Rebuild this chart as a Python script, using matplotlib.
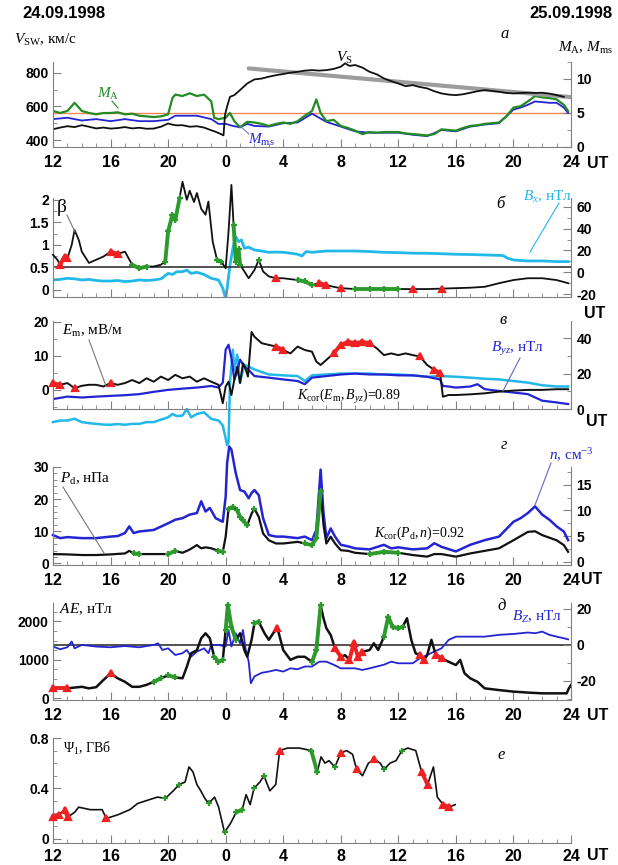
import numpy as np
import matplotlib
matplotlib.use('Agg')
import matplotlib.pyplot as plt
from matplotlib.ticker import MultipleLocator, FixedLocator
from matplotlib.lines import Line2D

plt.rcParams['font.family'] = ['Liberation Sans', 'DejaVu Sans']
plt.rcParams['mathtext.fontset'] = 'custom'
plt.rcParams['mathtext.rm'] = 'Liberation Serif'
plt.rcParams['mathtext.it'] = 'Liberation Serif:italic'
plt.rcParams['mathtext.bf'] = 'Liberation Serif:bold'

# time in hours from 00 UT 24.09.1998
x_ticks = [12, 16, 20, 24, 28, 32, 36, 40, 44, 48]
x_labels = ['12', '16', '20', '0', '4', '8', '12', '16', '20', '24']

# --- panel a: solar wind speed and Mach numbers
v_t = [12, 12.5, 13, 13.5, 14, 14.5, 15, 15.5, 16, 16.5, 17, 17.5, 18, 18.5, 19, 19.5,
       20, 20.3, 20.6, 21, 21.5, 22, 22.5, 23, 23.3, 23.6, 23.85, 23.95, 24.1, 24.3, 24.6,
       25, 25.5, 26, 26.5, 27, 27.5, 28, 28.5, 29, 29.5, 30, 30.5, 31, 31.5, 32, 32.3,
       32.6, 33, 33.5, 34, 34.5, 35, 35.5, 36, 36.5, 37, 37.5, 38, 38.5, 39, 39.5, 40,
       40.5, 41, 41.5, 42, 42.5, 43, 43.5, 44, 44.5, 45, 45.5, 46, 46.5, 47, 47.5]
v_sw = [465, 475, 483, 478, 489, 480, 470, 475, 469, 472, 478, 470, 474, 468, 469, 480,
        499, 492, 488, 489, 480, 483, 475, 459, 450, 439, 429, 548, 600, 657, 667,
        697, 736, 760, 765, 776, 785, 792, 800, 805, 812, 815, 812, 815, 822, 835, 855,
        840, 845, 830, 805, 790, 766, 750, 736, 720, 726, 715, 707, 690, 677, 670, 667,
        672, 681, 690, 697, 692, 687, 680, 677, 680, 681, 680, 681, 676, 667, 657]
vs_t = [25.6, 48.0]
vs_fit = [825, 655]

ma_t = [12, 12.5, 13, 13.5, 14, 14.5, 15, 15.5, 16, 16.5, 17, 17.5, 18, 18.5, 19, 19.5,
        20, 20.3, 20.5, 21, 21.5, 22, 22.5, 23, 23.2, 23.5, 24, 24.3, 24.6, 25, 25.5, 26,
        26.5, 27, 27.5, 28, 28.5, 29, 29.5, 30, 30.3, 30.6, 31, 31.5, 32, 32.5, 33, 33.5,
        34, 34.5, 35, 35.5, 36, 36.5, 37, 37.5, 38, 38.5, 39, 39.5, 40, 40.5, 41, 41.5,
        42, 42.5, 43, 43.5, 44, 44.5, 45, 45.5, 46, 46.5, 47, 47.5, 47.8]
m_a = [5.3, 5.0, 5.3, 6.5, 5.3, 5.0, 4.8, 5.0, 5.0, 5.1, 4.8, 4.9, 4.6, 4.5, 4.4, 4.5,
       4.8, 7.2, 7.7, 7.5, 7.9, 7.5, 7.7, 6.7, 4.3, 4.1, 4.3, 5.0, 3.8, 2.9, 3.7, 3.6,
       3.4, 3.1, 3.4, 3.6, 3.4, 3.8, 4.6, 5.3, 7.0, 5.0, 3.8, 4.0, 3.1, 2.8, 2.4, 1.9,
       2.2, 2.1, 2.2, 2.2, 2.2, 2.0, 1.9, 1.8, 1.7, 1.9, 2.6, 2.5, 2.4, 2.8, 3.1, 3.2,
       3.4, 3.5, 3.6, 4.5, 5.8, 6.0, 6.7, 7.5, 7.3, 7.2, 7.0, 6.2, 5.3]
mms_t = [12, 13, 14, 15, 16, 17, 18, 19, 20, 20.5, 21, 22, 23, 23.5, 24, 24.5, 25, 25.5,
         26, 27, 28, 29, 30, 31, 32, 33, 34, 35, 36, 37, 38, 39, 40, 41, 42, 43, 44,
         44.5, 45, 45.5, 46, 46.5, 47, 47.5, 47.8]
m_ms = [4.1, 4.3, 3.9, 4.1, 3.8, 4.1, 3.8, 3.8, 4.0, 4.6, 4.6, 4.6, 4.1, 3.4, 3.4, 3.1,
        2.9, 3.4, 3.1, 3.0, 3.5, 3.6, 4.9, 3.7, 3.0, 2.3, 2.1, 2.1, 2.1, 1.8, 1.6, 2.5,
        2.3, 3.0, 3.3, 3.5, 5.5, 5.8, 6.2, 6.7, 6.6, 6.5, 6.5, 5.8, 5.0]
m_crit = 5

# --- panel b: plasma beta and Bx
beta_t = [12, 12.3, 12.5, 12.8, 13, 13.3, 13.5, 13.8, 14, 14.3, 14.5, 15, 15.5, 16, 16.5,
          17, 17.5, 18, 18.5, 19, 19.5, 19.8, 20, 20.3, 20.5, 20.8, 21, 21.3, 21.5, 21.8,
          22, 22.3, 22.6, 22.8, 23.1, 23.4, 23.7, 24, 24.2, 24.4, 24.55, 24.7, 24.9, 25,
          25.3, 25.6, 26, 26.3, 26.6, 27, 27.5, 28, 28.5, 29, 29.5, 30, 30.5, 31, 31.5,
          32, 33, 34, 35, 36, 37, 38, 39, 40, 41, 42, 43, 44, 45, 46, 47, 47.8]
beta = [0.78, 0.67, 0.56, 0.74, 0.7, 1.0, 1.33, 1.1, 0.85, 0.7, 0.6, 0.67, 0.74, 0.85, 0.8,
        0.85, 0.56, 0.48, 0.52, 0.52, 0.56, 0.63, 1.3, 1.67, 1.55, 2.04, 2.4, 2.0, 2.2, 1.95,
        2.15, 1.8, 1.67, 1.96, 1.07, 0.67, 0.63, 0.48, 1.3, 2.33, 1.44, 0.63, 0.9, 0.56,
        0.41, 0.26, 0.44, 0.67, 0.41, 0.3, 0.26, 0.26, 0.24, 0.22, 0.19, 0.11, 0.15, 0.11,
        0.07, 0.04, 0.02, 0.02, 0.02, 0.02, 0.02, 0.02, 0.03, 0.04, 0.05, 0.07, 0.15, 0.22,
        0.26, 0.26, 0.22, 0.15]
bx_t = [12, 12.5, 13, 13.5, 14, 14.5, 15, 15.5, 16, 16.5, 17, 17.5, 18, 18.5, 19, 19.5,
        20, 20.3, 20.6, 21, 21.3, 21.6, 22, 22.5, 23, 23.5, 23.8, 24.0, 24.1, 24.3, 24.5,
        24.7, 24.9, 25.1, 25.3, 25.6, 26, 26.5, 27, 27.5, 28, 28.5, 29, 29.3, 29.6, 30,
        31, 32, 33, 34, 35, 36, 37, 38, 39, 40, 41, 42, 43, 43.3, 43.6, 44, 45, 46, 47, 47.8]
bx = [-7, -6.5, -5.5, -6, -7, -6.5, -7.5, -8, -8, -7.5, -8.5, -8, -7, -7.5, -7, -6,
      -1, -2, 0.5, 0.6, 2, -1, 0, -2, -5.5, -7, -14.6, -24, -15, 6.7, 22,
      32.6, 28, 29.6, 22, 23, 20.4, 19.5, 18.3, 18.5, 18.3, 17.5, 16.5, 15, 19, 18.3,
      19.5, 19.5, 19.5, 19, 18.3, 18, 17.5, 17.4, 17, 16.5, 16.3, 15.9, 15.5, 15.2, 12.8,
      11.3, 10.4, 10.4, 9.8, 9.8]

# --- panel v: Em and Byz
em_t = [12, 12.5, 13, 13.5, 14, 14.5, 15, 15.5, 16, 16.5, 17, 17.5, 18, 18.5, 19, 19.5,
        20, 20.5, 21, 21.5, 22, 22.5, 23, 23.5, 23.8, 24, 24.2, 24.4, 24.6, 24.8, 25,
        25.2, 25.4, 25.55, 25.7, 25.8, 26, 26.5, 27, 27.5, 28, 28.5, 29, 29.5, 30, 30.3,
        30.6, 31, 31.5, 32, 32.5, 33, 33.5, 34, 34.5, 35, 35.5, 36, 36.5, 37, 37.5, 38,
        38.5, 38.9, 39.1, 39.5, 40, 41, 42, 43, 44, 45, 46, 47, 47.8]
e_m = [1.95, 1.5, 2.0, 0.5, 1.2, 1.5, 1.5, 1.0, 2.0, 1.5, 2.0, 2.9, 2.0, 3.4, 2.4, 3.9,
       2.9, 4.4, 3.4, 3.9, 2.4, 3.4, 2.4, 1.5, -3.9, 1.0, 2.4, -1.5, 2.9, 6.8, 2.0,
       7.8, 5.9, 3.9, 11.7, 17.0, 15.6, 13.7, 13.2, 12.7, 11.7, 10.7, 12.7, 11.7, 11.2, 8.3,
       7.3, 8.8, 10.7, 13.2, 14.1, 13.7, 14.1, 13.7, 12.2, 10.2, 10.7, 10.2, 10.7, 10.2, 9.8,
       7.3, 5.9, 4.9, -2.0, -1.5, -1.5, -1.3, -1.0, -0.5, -0.2, 0.0, 0.0, 0.2, 0.2]
byz_t = [12, 13, 14, 15, 16, 17, 18, 19, 20, 21, 22, 23, 23.5, 23.8, 24, 24.2, 24.4, 24.6,
         24.8, 25, 25.3, 25.6, 26, 27, 28, 29, 29.5, 30, 31, 32, 33, 34, 35, 36, 37, 38,
         38.9, 39.1, 39.5, 40, 41, 41.5, 42, 43, 44, 45, 46, 47, 47.8]
b_yz = [5.6, 7.0, 6.5, 7.0, 7.4, 7.8, 8.4, 9.7, 10.8, 11.5, 12.1, 13.0, 12.1, 14.9, 33.5,
        36.3, 28.8, 16.7, 21.0, 27.9, 24.0, 22.0, 18.6, 17.7, 16.7, 15.8, 14.0, 17.7, 18.6,
        19.5, 20.0, 19.5, 19.5, 19.0, 19.0, 18.2, 16.7, 13.0, 12.7, 12.1, 12.7, 14.0, 11.2,
        10.2, 9.3, 8.4, 4.7, 3.7, 2.8]
bc_t = [12, 12.5, 13, 13.5, 14, 14.5, 15, 15.5, 16, 16.5, 17, 17.5, 18, 18.5, 19, 19.5,
        20, 20.3, 20.6, 21, 21.3, 21.6, 22, 22.5, 23, 23.5, 23.8, 24.0, 24.1, 24.2, 24.3,
        24.5, 24.6, 24.8, 25.0, 25.3, 25.6, 26, 27, 28, 29, 29.5, 30, 31, 32, 33, 34, 35,
        36, 37, 38, 39, 40, 41, 42, 43, 44, 45, 46, 47, 47.8]
b_cyan = [-7.4, -6.5, -6.5, -5.5, -7.4, -8, -8.4, -8.8, -8.9, -8.5, -8.9, -8.4, -8.4, -7.4,
          -7.4, -6, -4.7, -2.8, -4, -3.7, 0, -4.7, -2.8, -1.9, -5.6, -6.5, -9.3, -16.7,
          -20.5, -19, 14.9, 33.5, 22.0, 30.7, 14.9, 25.0, 24.0, 22.3, 19.5, 19.0, 18.6, 15.8,
          19.0, 19.5, 20.0, 20.0, 20.0, 19.5, 19.5, 19.0, 18.2, 18.6, 18.2, 17.7, 17.1, 16.7,
          15.8, 14.9, 13.4, 12.7, 12.7]

# --- panel g: dynamic pressure and density
pd_t = [12, 13, 14, 15, 16, 17, 17.3, 17.6, 18, 19, 20, 20.5, 21, 21.5, 22, 22.3, 22.6,
        23, 23.5, 23.8, 24, 24.2, 24.5, 24.8, 25, 25.2, 25.5, 25.8, 26, 26.3, 26.6, 27,
        27.5, 28, 29, 29.5, 30, 30.3, 30.6, 30.8, 31, 31.3, 31.6, 32, 32.5, 33, 34, 35,
        36, 37, 38, 38.5, 39, 40, 41, 42, 43, 44, 45, 45.5, 46, 47, 47.5, 47.8]
p_d = [2.9, 2.8, 2.6, 2.6, 2.8, 3.1, 3.9, 3.1, 2.9, 2.9, 2.9, 3.9, 3.3, 4.3, 5.7, 4.7, 5.0,
       4.7, 3.9, 3.6, 8.3, 17.0, 17.6, 16.5, 14.5, 13.4, 11.9, 15.5, 17.0, 14.5, 9.3, 7.2,
       6.2, 6.2, 6.7, 6.2, 5.7, 7.8, 22.5, 11.9, 6.2, 8.3, 6.2, 4.1, 3.9, 3.3, 2.9, 3.6,
       3.3, 2.6, 2.1, 2.9, 2.9, 2.1, 3.1, 3.9, 4.7, 7.2, 9.8, 10.0, 8.8, 7.2, 5.7, 3.6]
n_t = [12, 12.5, 13, 14, 15, 16, 16.5, 17, 17.3, 17.6, 18, 19, 20, 20.5, 21, 21.5, 22,
       22.3, 22.6, 22.9, 23.3, 23.8, 24, 24.1, 24.25, 24.4, 24.7, 25, 25.3, 25.6, 25.8,
       26, 26.3, 26.6, 27, 27.5, 28, 29, 29.5, 30, 30.3, 30.6, 30.8, 31, 31.3, 31.6, 32,
       32.5, 33, 34, 35, 35.5, 36, 37, 38, 38.5, 39, 40, 41, 42, 43, 44, 44.5, 45, 45.5,
       46, 46.5, 47, 47.5, 47.8]
n_p = [5.2, 4.6, 4.8, 4.6, 4.6, 4.9, 5.0, 5.6, 6.9, 5.6, 5.9, 6.2, 7.5, 8.2, 8.5, 9.2, 9.5,
       11.8, 9.8, 10.5, 8.5, 7.8, 12.7, 19.3, 22.5, 21.9, 17.3, 14.0, 13.7, 12.4, 13.4,
       14.0, 13.0, 8.5, 5.2, 4.9, 4.9, 4.6, 4.9, 4.2, 6.2, 18.0, 9.5, 4.6, 6.5, 4.9, 3.3,
       3.0, 2.6, 2.4, 3.3, 2.6, 2.8, 2.4, 2.6, 3.6, 2.9, 2.0, 3.3, 4.2, 4.9, 7.8, 8.5, 9.5,
       10.8, 9.2, 8.2, 6.9, 5.9, 4.2]

# --- panel d: AE index and Bz
ae_t = [12, 13, 14, 14.5, 15, 15.5, 16, 16.5, 17, 17.5, 18, 18.5, 19, 19.5, 20, 20.5, 21,
        21.3, 21.6, 22, 22.3, 22.6, 22.9, 23.2, 23.5, 23.8, 24, 24.15, 24.4, 24.7, 25,
        25.3, 25.5, 25.8, 26, 26.3, 26.7, 27, 27.3, 27.6, 28, 28.5, 29, 29.5, 30, 30.3,
        30.6, 30.8, 31, 31.3, 31.6, 32, 32.3, 32.6, 32.9, 33.2, 33.5, 34, 34.3, 34.6, 35,
        35.3, 35.6, 36, 36.3, 36.6, 36.9, 37.2, 37.5, 37.8, 38, 38.3, 38.6, 39, 39.5, 40,
        40.3, 40.6, 41, 41.5, 42, 43, 44, 45, 46, 47, 47.7, 47.85, 48]
ae = [260, 260, 300, 260, 290, 475, 650, 520, 430, 300, 300, 350, 430, 520, 600, 545, 520,
      820, 1170, 1250, 1560, 1690, 1560, 1080, 950, 1000, 1775, 2420, 1860, 1520, 1690,
      1255, 1080, 1520, 1950, 1990, 1690, 1520, 1690, 1820, 1255, 1000, 1080, 1080, 950,
      1255, 2420, 2080, 1820, 1645, 1300, 1080, 1120, 1000, 1430, 1080, 1210, 1255, 1430,
      1255, 1600, 2120, 1860, 1820, 1860, 2080, 1520, 1170, 1125, 1000, 1120, 1520, 1125,
      1040, 950, 865, 1000, 650, 520, 430, 260, 215, 175, 150, 130, 130, 130, 260, 345]
bz_t = [12, 12.5, 13, 13.3, 13.5, 14, 15, 16, 17, 18, 19, 19.3, 19.6, 20, 20.5, 21, 21.3,
        21.6, 22, 22.5, 22.8, 23, 23.5, 24, 24.2, 24.4, 24.7, 25, 25.2, 25.4, 25.6, 25.75,
        26, 26.5, 27, 27.5, 28, 28.5, 29, 29.5, 30, 30.5, 31, 31.5, 32, 32.5, 33, 33.5, 34,
        34.5, 35, 35.5, 36, 37, 37.5, 38, 38.5, 39, 39.5, 40, 41, 42, 43, 44, 44.5, 45,
        45.5, 46, 46.5, 47, 47.5, 47.8]
bz = [-0.9, -2.4, -1.3, 1.9, -1.9, 0, -0.9, -1.3, -0.6, -1.3, 0, 0.9, -2.8, -1.9, -5.6,
      -4.6, -2.8, -6.5, -3.7, -1.9, -4.6, 0, 0, -0.9, 8.3, -0.9, 6.5, 0.9, 8.3, -2.8,
      -9.3, -21.3, -17.5, -15.5, -14.8, -13.9, -14.8, -13.0, -13.5, -12.0, -12.0, -9.3,
      -9.3, -11.0, -13.0, -13.0, -13.0, -13.9, -13.0, -12.0, -11.0, -9.3, -10.2, -10.2,
      -7.4, -5.6, -3.7, -1.9, 2.8, 4.6, 4.6, 4.6, 5.6, 6.1, 6.5, 6.9, 6.5, 7.4, 5.6, 4.6,
      3.7, 3.1]

# --- panel e: polar cap potential
psi_t = [12.0, 12.41, 12.82, 13.01, 13.51, 13.78, 14.6, 15.42, 15.7, 16.52, 17.34, 17.89,
         18.44, 19.26, 19.81, 20.36, 20.77, 21.18, 21.45, 21.73, 22.0, 22.27, 22.55, 22.82,
         23.23, 23.51, 23.92, 24.33, 24.74, 25.15, 25.42, 25.7, 25.97, 26.38, 26.66, 27.07,
         27.48, 27.75, 28.3, 29.12, 29.95, 30.36, 30.63, 30.9, 31.18, 31.59, 32.0, 32.41,
         32.82, 33.1, 33.51, 33.92, 34.33, 34.74, 35.01, 35.42, 35.84, 36.25, 36.66, 37.21,
         37.62, 38.03, 38.44, 38.71, 39.12, 39.53, 39.95]
psi = [0.17, 0.19, 0.23, 0.17, 0.21, 0.25, 0.23, 0.23, 0.16, 0.19, 0.23, 0.28, 0.3, 0.33,
       0.32, 0.38, 0.43, 0.45, 0.57, 0.53, 0.43, 0.38, 0.32, 0.28, 0.33, 0.25, 0.05, 0.12,
       0.21, 0.23, 0.35, 0.27, 0.4, 0.45, 0.5, 0.38, 0.43, 0.7, 0.72, 0.72, 0.7, 0.53, 0.65,
       0.6, 0.62, 0.57, 0.68, 0.7, 0.67, 0.55, 0.5, 0.6, 0.63, 0.6, 0.55, 0.6, 0.62, 0.7,
       0.72, 0.7, 0.53, 0.43, 0.57, 0.33, 0.27, 0.25, 0.27]

# intervals with red (triangles) and green (crosses) markers
beta_red = [(12.5, 13.0), (16, 16.5), (27.5, 27.5), (30.5, 31), (32, 32), (37, 37), (39, 39)]
beta_grn = [(17.5, 18.5), (19.8, 20.8), (23.4, 23.7), (24.55, 25), (26.3, 26.3), (29, 30),
            (33, 36)]
em_red = [(12, 12.5), (13.5, 13.5), (16, 16), (27.5, 28), (31.5, 34), (37.5, 37.5),
          (38.5, 38.9)]
pd_grn = [(17.6, 18), (20, 20.5), (23.5, 23.8), (24.2, 24.5), (24.8, 25.5), (26, 26),
          (29.5, 30.6), (34, 36)]
ae_red = [(12, 13), (16, 16), (27.6, 27.6), (31.6, 32), (32.6, 33.5), (37.5, 37.8),
          (38.6, 39)]
ae_grn = [(19, 19.5), (20, 20.5), (23.2, 23.8), (24, 24.7), (26, 26.3), (30, 30.6),
          (35, 36.3)]
psi_red = [(12, 12.41), (12.82, 13.01), (15.7, 15.7), (27.75, 27.75), (32.0, 32.0),
           (33.1, 33.1), (34.33, 34.33), (37.62, 38.03), (39.12, 39.53)]
psi_grn = [(19.81, 19.81), (20.77, 20.77), (22.82, 22.82), (23.92, 23.92), (24.74, 25.15),
           (25.97, 25.97), (26.66, 26.66), (29.95, 30.36), (31.59, 31.59), (35.01, 35.01),
           (36.25, 36.25)]

BLK = '#111111'
BLUE = '#2424d2'
GREEN = '#238b23'
CYAN = '#22b8ea'
RED = '#ee2222'
GMARK = '#2c9a2c'
SPINE = '#808080'

W, H = 618, 865
L, R = 53, 571
fig = plt.figure(figsize=(W / 100, H / 100), dpi=100)


def ft(x, y, s, **kw):
    kw.setdefault('va', 'center')
    kw.setdefault('ha', 'left')
    return fig.text(x / W, 1 - y / H, s, **kw)


def lead(x0, y0, x1, y1, color='#777777'):
    fig.add_artist(Line2D([x0 / W, x1 / W], [1 - y0 / H, 1 - y1 / H],
                          transform=fig.transFigure, color=color, lw=0.8))


def make_ax(top, bot, right=True, xlab=True, xpad=5.5):
    ax = fig.add_axes([L / W, 1 - bot / H, (R - L) / W, (bot - top) / H])
    ax.set_xlim(12, 48)
    for s in ('top', 'right'):
        ax.spines[s].set_visible(False)
    for s in ('left', 'bottom'):
        ax.spines[s].set_color(SPINE)
    ax.xaxis.set_major_locator(FixedLocator(x_ticks))
    ax.xaxis.set_minor_locator(MultipleLocator(1))
    ax.tick_params(which='both', direction='in', color=SPINE, top=False, right=False)
    ax.tick_params(which='major', length=6)
    ax.tick_params(which='minor', length=3)
    ax.tick_params(axis='x', pad=xpad)
    ax.tick_params(axis='y', pad=3)
    if xlab:
        ax.set_xticklabels(x_labels, fontsize=11.5, fontweight='bold')
    else:
        ax.tick_params(labelbottom=False)
    ax2 = None
    if right:
        ax2 = ax.twinx()
        for s in ('top', 'left', 'bottom'):
            ax2.spines[s].set_visible(False)
        ax2.spines['right'].set_color(SPINE)
        ax2.tick_params(which='both', direction='in', color=SPINE, pad=4)
        ax2.tick_params(which='major', length=6)
        ax2.tick_params(which='minor', length=3)
        ax.set_zorder(ax2.get_zorder() + 1)
        ax.patch.set_visible(False)
    return ax, ax2


def yticks(ax, ticks, labels, minor):
    ax.set_yticks(ticks)
    ax.set_yticklabels(labels, fontsize=10, fontweight='bold')
    ax.yaxis.set_minor_locator(MultipleLocator(minor))


def marks(ax, t, v, spans, color, marker):
    t = np.asarray(t, float)
    v = np.asarray(v, float)
    for a, b in spans:
        m = (t >= a - 1e-6) & (t <= b + 1e-6)
        ax.plot(t[m], v[m], color=color, lw=2.8, marker=marker, ms=4.2, mew=1.6,
                solid_capstyle='round', zorder=6, clip_on=False)


serif = dict(family='Liberation Serif', fontsize=11)

# ---------------- panel a
ax, ax2 = make_ax(62, 147)
ax.set_ylim(360, 863)
ax2.set_ylim(0, 12.5)
yticks(ax, [400, 600, 800], ['400', '600', '800'], 100)
yticks(ax2, [0, 5, 10], ['0', '5', '10'], 2.5)
ax2.axhline(m_crit, color='#ee8855', lw=1.0, zorder=1)
ax2.plot(mms_t, m_ms, color=BLUE, lw=1.3, zorder=2)
ax2.plot(ma_t, m_a, color=GREEN, lw=1.6, zorder=3)
ax.plot(vs_t, vs_fit, color='#9c9c9c', lw=3, zorder=1, solid_capstyle='round')
ax.plot(v_t, v_sw, color=BLK, lw=1.3, zorder=2)

ft(22, 14, '24.09.1998', fontsize=12, fontweight='bold')
ft(612, 14, '25.09.1998', fontsize=12, fontweight='bold', ha='right')
ft(14, 40, r'$V_{\rm SW}$, км/с', **serif)
ft(500, 34, 'а', family='Liberation Serif', style='italic', fontsize=12)
ft(613, 48, r'$M_{\rm A}$, $M_{\rm ms}$', ha='right', **serif)
ft(97, 94, r'$M_{\rm A}$', color=GREEN, **serif)
ft(248, 140, r'$M_{\rm ms}$', color=BLUE, **serif)
ft(336, 58, r'$V_{\rm S}$', **serif)
lead(112, 101, 118, 108, GREEN)
lead(249, 134, 240, 126, '#7777cc')
ft(587, 163, 'UT', fontsize=11.5, fontweight='bold')

# ---------------- panel b
ax, ax2 = make_ax(198, 297, xlab=False)
ax.set_ylim(-0.156, 2.04)
ax2.set_ylim(-22.6, 68)
yticks(ax, [0, 0.5, 1, 1.5, 2], ['0', '0.5', '1', '1.5', '2'], 0.25)
yticks(ax2, [-20, 0, 20, 40, 60], ['-20', '0', '20', '40', '60'], 10)
ax.axhline(0.5, color='#333333', lw=1.2, zorder=1)
ax2.plot(bx_t, bx, color=CYAN, lw=2.0, zorder=2)
ax.plot(beta_t, beta, color=BLK, lw=1.3, zorder=3, clip_on=False)
marks(ax, beta_t, beta, beta_red, RED, '^')
marks(ax, beta_t, beta, beta_grn, GMARK, '+')
ft(57, 208, 'β', family='Liberation Serif', fontsize=14)
lead(67, 215, 75, 232)
ft(496, 204, 'б', family='Liberation Serif', style='italic', fontsize=12)
ft(523, 197, r'$B_x$, нТл', color=CYAN, **serif)
lead(559, 203, 530, 252, CYAN)
ft(584, 314, 'UT', fontsize=11.5, fontweight='bold')

# ---------------- panel v
ax, ax2 = make_ax(321, 409, xlab=False)
ax.set_ylim(-5.6, 20.2)
ax2.set_ylim(0, 49.7)
yticks(ax, [0, 10, 20], ['0', '10', '20'], 5)
yticks(ax2, [0, 20, 40], ['0', '20', '40'], 10)
ax2.plot(bc_t, b_cyan, color=CYAN, lw=1.8, zorder=2, clip_on=False)
ax2.plot(byz_t, b_yz, color=BLUE, lw=1.6, zorder=3)
ax.plot(em_t, e_m, color=BLK, lw=1.4, zorder=3)
marks(ax, em_t, e_m, em_red, RED, '^')
ft(62, 331, r'$E_{\rm m}$, мВ/м', **serif)
lead(89, 340, 106, 386)
ft(499, 320, 'в', family='Liberation Serif', style='italic', fontsize=12)
ft(491, 349, r'$B_{yz}$, нТл', color=BLUE, **serif)
lead(520, 358, 503, 391, '#6666cc')
ft(297, 396, r'$K_{\rm cor}(E_{\rm m}, B_{yz})$=0.89', family='Liberation Serif', fontsize=10)
ft(586, 422, 'UT', fontsize=11.5, fontweight='bold')

# ---------------- panel g
ax, ax2 = make_ax(467, 565)
ax.set_ylim(-0.5, 30)
ax2.set_ylim(-0.65, 18.5)
yticks(ax, [0, 10, 20, 30], ['0', '10', '20', '30'], 2)
yticks(ax2, [0, 5, 10, 15], ['0', '5', '10', '15'], 2.5)
ax2.plot(n_t, n_p, color=BLUE, lw=1.8, zorder=2, clip_on=False)
ax.plot(pd_t, p_d, color=BLK, lw=1.6, zorder=3)
marks(ax, pd_t, p_d, pd_grn, GMARK, '+')
ft(501, 445, 'г', family='Liberation Serif', style='italic', fontsize=12)
ft(60, 479, r'$P_{\rm d}$, нПа', **serif)
lead(63, 487, 104, 553)
ft(549, 455, r'$n$, см$^{-3}$', color=BLUE, **serif)
lead(551, 463, 535, 505, '#6666cc')
ft(374, 533, r'$K_{\rm cor}(P_{\rm d}, n)$=0.92', family='Liberation Serif', fontsize=10)
ft(581, 579, 'UT', fontsize=11.5, fontweight='bold')

# ---------------- panel d
ax, ax2 = make_ax(603, 700)
ax.set_ylim(-43, 2477)
ax2.set_ylim(-30.6, 23.3)
yticks(ax, [0, 1000, 2000], ['0', '1000', '2000'], 250)
yticks(ax2, [-20, 0, 20], ['-20', '0', '20'], 10)
ax2.axhline(0, color='#333333', lw=1.2, zorder=1)
ax2.plot(bz_t, bz, color=BLUE, lw=1.3, zorder=2)
ax.plot(ae_t, ae, color=BLK, lw=1.8, zorder=3)
marks(ax, ae_t, ae, ae_red, RED, '^')
marks(ax, ae_t, ae, ae_grn, GMARK, '+')
ft(59, 609, r'$AE$, нТл', **serif)
ft(497, 606, 'д', family='Liberation Serif', style='italic', fontsize=12)
ft(512, 617, r'$B_Z$, нТл', color=BLUE, **serif)
ft(587, 716, 'UT', fontsize=11.5, fontweight='bold')

# ---------------- panel e
ax, _ = make_ax(738, 843, right=False, xpad=4)
ax.set_ylim(-0.035, 0.8)
yticks(ax, [0, 0.4, 0.8], ['0', '0.4', '0.8'], 0.1)
ax.plot(psi_t, psi, color=BLK, lw=1.2, zorder=3)
marks(ax, psi_t, psi, psi_red, RED, '^')
marks(ax, psi_t, psi, psi_grn, GMARK, '+')
ft(63, 748, r'$\Psi_1$, ГВб', family='Liberation Serif', fontsize=10)
ft(497, 755, 'е', family='Liberation Serif', style='italic', fontsize=12)
ft(587, 856, 'UT', fontsize=11.5, fontweight='bold')

fig.savefig('out.png', dpi=100)
